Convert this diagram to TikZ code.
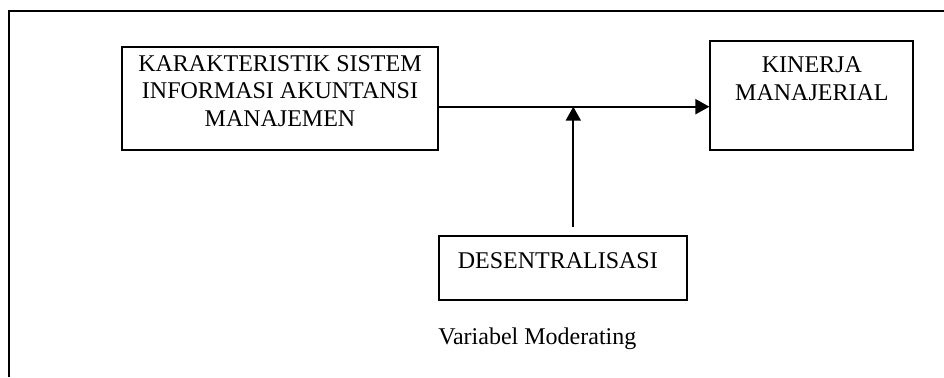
\documentclass[tikz,border=0pt]{standalone}
\usepackage{fontspec}
\setmainfont{Liberation Serif}
\usetikzlibrary{arrows.meta, positioning, calc}
\tikzset{%
  varbox/.style={draw, line width=1pt, inner sep=0pt},
  boxtext/.style={align=center, inner sep=0pt, font=\fontsize{12}{13.75}\selectfont},
  link/.style={line width=1pt, -{Triangle[length=7pt, width=7.5pt]}},
  frame/.style={line width=1pt},
}

\begin{document}
\begin{tikzpicture}[x=0.5pt, y=0.5pt]
  \useasboundingbox (0,0) rectangle (944,377);

  % frame, cut at the right and the bottom
  \draw[frame] (9,0) -- (9,366) -- (944,366);

  \node[varbox, minimum width=158.3pt, minimum height=51.2pt,
    label={[boxtext, anchor=north, yshift=-4.3pt]north:KARAKTERISTIK SISTEM\\INFORMASI AKUNTANSI\\MANAJEMEN}]
    (kar) at (280,278.5) {};
  \node[varbox, minimum width=101.5pt, minimum height=54.5pt,
    label={[boxtext, anchor=north, yshift=-8.4pt]north:KINERJA\\MANAJERIAL}]
    (kin) at (811.9,281.8) {};
  \node[varbox, minimum width=124pt, minimum height=32pt,
    label={[boxtext, anchor=north, yshift=-8.45pt, xshift=-2.6pt]north:DESENTRALISASI}]
    (des) at (563,108.7) {};

  \node[boxtext, anchor=base west] (mod lbl) at (438,33) {Variabel Moderating};

  \coordinate (mod) at (573.3,270.3);

  \draw[link] (kar.east |- mod) -- (kin.west |- mod);
  \draw[link] ([yshift=4.3pt]des.north -| mod) -- (mod);
\end{tikzpicture}
\end{document}
